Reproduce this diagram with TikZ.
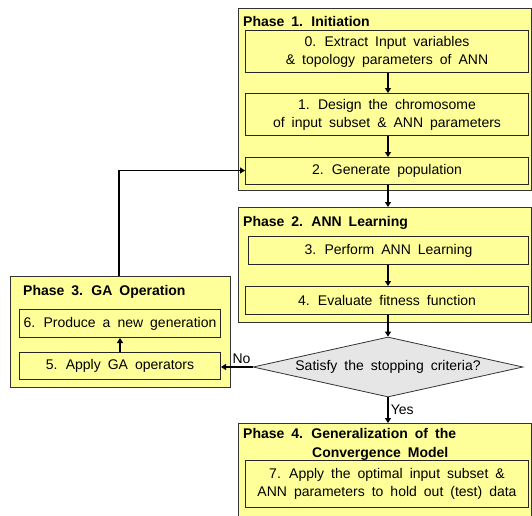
\documentclass[tikz,border=0pt]{standalone}
\usepackage{fontspec}
\setmainfont[WordSpace=1.8]{Liberation Sans}
\usetikzlibrary{shapes.geometric,arrows.meta}
\definecolor{boxyellow}{RGB}{255,255,153}
\definecolor{diagrey}{RGB}{230,230,230}
\tikzset{
  phasebox/.style={draw=black!80, fill=boxyellow, line width=0.8pt, anchor=north west, inner sep=0pt},
  stepbox/.style={draw=black!85, fill=boxyellow, line width=1pt, anchor=north west, inner sep=0pt, align=center, font=\fontsize{14}{18}\selectfont},
  titletext/.style={anchor=west, inner sep=0pt, font=\fontsize{14}{19}\selectfont\bfseries, align=left},
  arr/.style={line width=1.5pt, -{Triangle[length=5pt,width=6pt]}},
  lbl/.style={inner sep=0pt, font=\fontsize{14}{16}\selectfont}
}
\begin{document}
\begin{tikzpicture}[x=1pt,y=-1pt]
\useasboundingbox (0,0) rectangle (532,515);
% Phase 1
\node[phasebox, minimum width=293pt, minimum height=182pt] (ph1) at (238,8) {};
\node[titletext] (t1) at (243,21) {Phase 1. Initiation};
\node[stepbox, minimum width=283pt, minimum height=42pt] (b0) at (245,30) {0. Extract Input variables\\\& topology parameters of ANN};
\node[stepbox, minimum width=283pt, minimum height=42pt] (b1) at (245,93) {1. Design the chromosome\\of input subset \& ANN parameters};
\node[stepbox, minimum width=283pt, minimum height=27pt] (b2) at (245,157) {2. Generate population};
% Phase 2
\node[phasebox, minimum width=293pt, minimum height=115pt] (ph2) at (238,207) {};
\node[titletext] (t2) at (243,223) {Phase 2. ANN Learning};
\node[stepbox, minimum width=280pt, minimum height=28pt] (b3) at (248,236) {3. Perform ANN Learning};
\node[stepbox, minimum width=283pt, minimum height=28pt] (b4) at (245,286) {4. Evaluate fitness function};
% Decision
\node[diamond, draw=black!80, fill=diagrey, line width=0.8pt, minimum width=270pt, minimum height=60pt, inner sep=0pt, aspect=4.5, font=\fontsize{14}{16}\selectfont] (d) at (388,367) {Satisfy the stopping criteria?};
% Phase 3
\node[phasebox, minimum width=220pt, minimum height=111pt] (ph3) at (10,276) {};
\node[titletext] (t3) at (23,292) {Phase 3. GA Operation};
\node[stepbox, minimum width=201pt, minimum height=28pt] (b6) at (19,309) {6. Produce a new generation};
\node[stepbox, minimum width=201pt, minimum height=27pt] (b5) at (19,352) {5. Apply GA operators};
% Phase 4
\node[phasebox, minimum width=293pt, minimum height=100pt] (ph4) at (238,423) {};
\node[titletext] (t4) at (243,444.5) {Phase 4. Generalization of the\\\hspace*{69pt}Convergence Model};
\node[stepbox, minimum width=283pt, minimum height=47pt] (b7) at (245,460) {7. Apply the optimal input subset \&\\ANN parameters to hold out (test) data};
% connectors
\draw[arr] (b0.south -| 388,0) -- (b1.north -| 388,0);
\draw[arr] (b1.south -| 388,0) -- (b2.north -| 388,0);
\draw[arr] (b2.south -| 388,0) -- (ph2.north -| 388,0);
\draw[arr] (b3.south -| 388,0) -- (b4.north -| 388,0);
\draw[arr] (b4.south -| 388,0) -- (d.north);
\draw[arr] (d.south) -- node[lbl, right=2pt] (yes) {Yes} (ph4.north -| d.south);
\draw[arr] (d.west) -- node[lbl, above=3pt, pos=0.35] (no) {No} (b5.east |- d.west);
\draw[arr] (b5.north) -- (b6.south);
\coordinate (c1) at (119,170.5);
\draw[arr] (ph3.north -| c1) -- (c1) -- (b2.west |- c1);
\end{tikzpicture}
\end{document}
